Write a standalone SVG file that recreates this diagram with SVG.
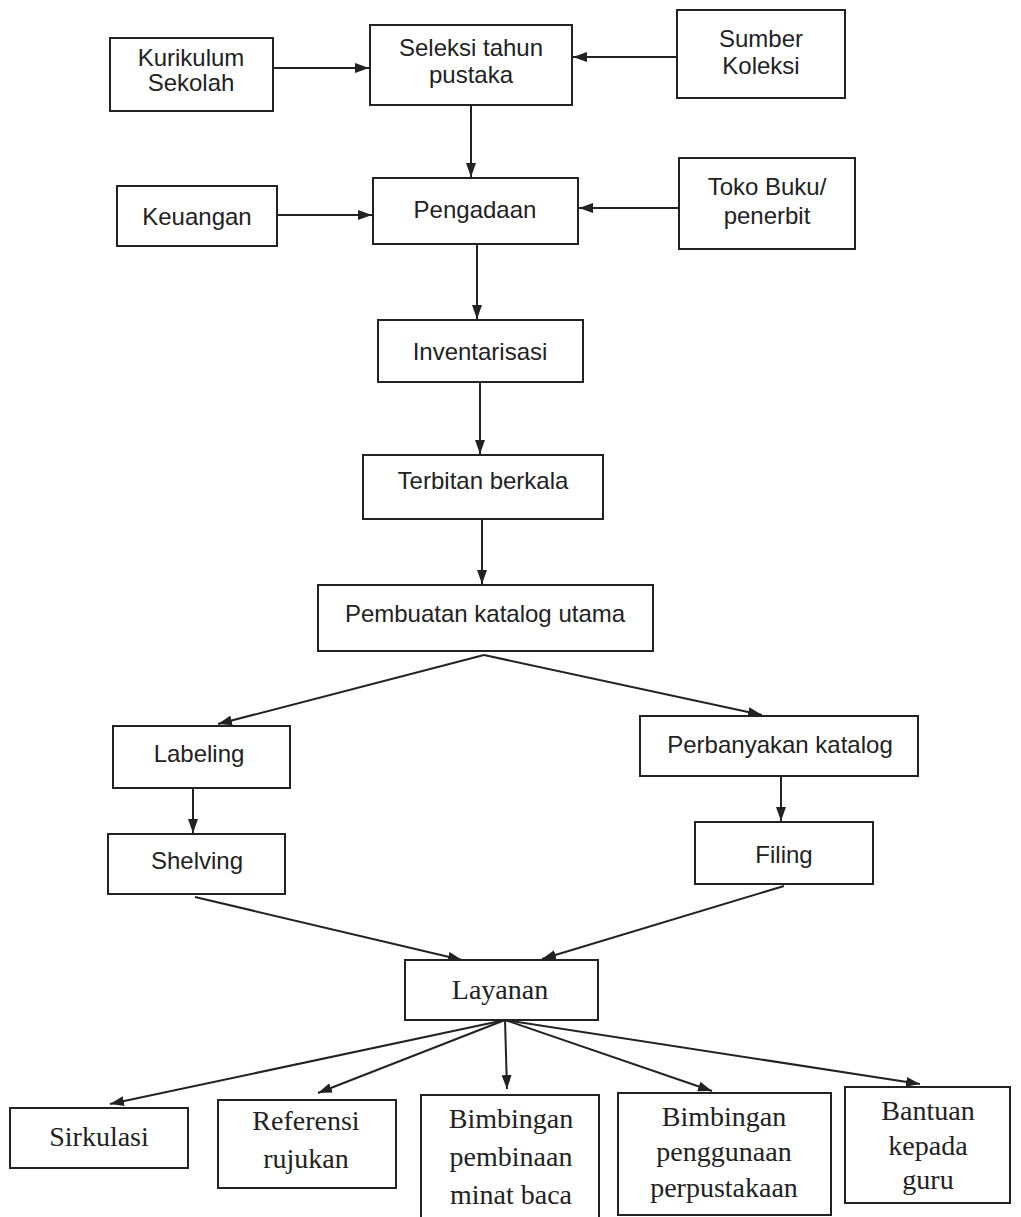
<svg xmlns="http://www.w3.org/2000/svg" width="1021" height="1217" viewBox="0 0 1021 1217">
<style>
.box{fill:#fff;stroke:#222;stroke-width:2}
.t{font-family:"Liberation Sans",Arial,sans-serif;font-size:24px;fill:#222;text-anchor:middle}
.s{font-family:"Liberation Serif","Times New Roman",serif;font-size:28px;fill:#222;text-anchor:middle}
.c{stroke:#222;stroke-width:2;fill:none;marker-end:url(#ah)}
</style>
<defs>
<marker id="ah" viewBox="0 0 14 10" refX="14" refY="5" markerWidth="14" markerHeight="10" markerUnits="userSpaceOnUse" orient="auto">
<path d="M0,0 L14,5 L0,10 Z" fill="#222"/>
</marker>
</defs>
<rect width="1021" height="1217" fill="#fff"/>
<g id="connectors">
<line class="c" x1="273" y1="68" x2="369" y2="68"/>
<line class="c" x1="677" y1="57" x2="573" y2="57"/>
<line class="c" x1="471" y1="105" x2="471" y2="177"/>
<line class="c" x1="277" y1="215" x2="372" y2="215"/>
<line class="c" x1="679" y1="208" x2="579" y2="208"/>
<line class="c" x1="477" y1="244" x2="477" y2="319"/>
<line class="c" x1="480" y1="382" x2="480" y2="454"/>
<line class="c" x1="482" y1="519" x2="482" y2="584"/>
<line class="c" x1="484" y1="655" x2="218" y2="724"/>
<line class="c" x1="484" y1="655" x2="762" y2="715"/>
<line class="c" x1="193" y1="788" x2="193" y2="833"/>
<line class="c" x1="781" y1="776" x2="781" y2="821"/>
<line class="c" x1="195" y1="897" x2="462" y2="960"/>
<line class="c" x1="784" y1="886" x2="542" y2="959"/>
<line class="c" x1="505" y1="1020" x2="110" y2="1104"/>
<line class="c" x1="505" y1="1020" x2="318" y2="1093"/>
<line class="c" x1="505" y1="1020" x2="507" y2="1089"/>
<line class="c" x1="505" y1="1020" x2="712" y2="1091"/>
<line class="c" x1="505" y1="1020" x2="920" y2="1084"/>
</g>
<g id="kurikulum"><rect class="box" x="110" y="38" width="163" height="73"/><text class="t" x="191" y="66">Kurikulum</text><text class="t" x="191" y="91">Sekolah</text></g>
<g id="seleksi"><rect class="box" x="370" y="25" width="202" height="80"/><text class="t" x="471" y="56">Seleksi tahun</text><text class="t" x="471" y="83">pustaka</text></g>
<g id="sumber"><rect class="box" x="677" y="10" width="168" height="88"/><text class="t" x="761" y="47">Sumber</text><text class="t" x="761" y="74">Koleksi</text></g>
<g id="keuangan"><rect class="box" x="117" y="186" width="160" height="60"/><text class="t" x="197" y="225">Keuangan</text></g>
<g id="pengadaan"><rect class="box" x="373" y="178" width="205" height="66"/><text class="t" x="475" y="218">Pengadaan</text></g>
<g id="toko"><rect class="box" x="679" y="158" width="176" height="91"/><text class="t" x="767" y="195">Toko Buku/</text><text class="t" x="767" y="224">penerbit</text></g>
<g id="inventarisasi"><rect class="box" x="378" y="320" width="205" height="62"/><text class="t" x="480" y="360">Inventarisasi</text></g>
<g id="terbitan"><rect class="box" x="363" y="455" width="240" height="64"/><text class="t" x="483" y="489">Terbitan berkala</text></g>
<g id="pembuatan"><rect class="box" x="318" y="585" width="335" height="66"/><text class="t" x="485" y="622">Pembuatan katalog utama</text></g>
<g id="labeling"><rect class="box" x="113" y="726" width="177" height="62"/><text class="t" x="199" y="762">Labeling</text></g>
<g id="perbanyakan"><rect class="box" x="640" y="716" width="278" height="60"/><text class="t" x="780" y="753">Perbanyakan katalog</text></g>
<g id="shelving"><rect class="box" x="108" y="834" width="177" height="60"/><text class="t" x="197" y="869">Shelving</text></g>
<g id="filing"><rect class="box" x="695" y="822" width="178" height="62"/><text class="t" x="784" y="863">Filing</text></g>
<g id="layanan"><rect class="box" x="405" y="960" width="193" height="60"/><text class="s" x="500" y="999">Layanan</text></g>
<g id="sirkulasi"><rect class="box" x="10" y="1108" width="178" height="60"/><text class="s" x="99" y="1146">Sirkulasi</text></g>
<g id="referensi"><rect class="box" x="218" y="1100" width="178" height="88"/><text class="s" x="306" y="1130">Referensi</text><text class="s" x="306" y="1168">rujukan</text></g>
<g id="bimbingan1"><rect class="box" x="421" y="1095" width="178" height="130"/><text class="s" x="511" y="1128">Bimbingan</text><text class="s" x="511" y="1166">pembinaan</text><text class="s" x="511" y="1204">minat baca</text></g>
<g id="bimbingan2"><rect class="box" x="618" y="1093" width="213" height="122"/><text class="s" x="724" y="1126">Bimbingan</text><text class="s" x="724" y="1161">penggunaan</text><text class="s" x="724" y="1197">perpustakaan</text></g>
<g id="bantuan"><rect class="box" x="845" y="1087" width="165" height="116"/><text class="s" x="928" y="1120">Bantuan</text><text class="s" x="928" y="1155">kepada</text><text class="s" x="928" y="1189">guru</text></g>
</svg>
